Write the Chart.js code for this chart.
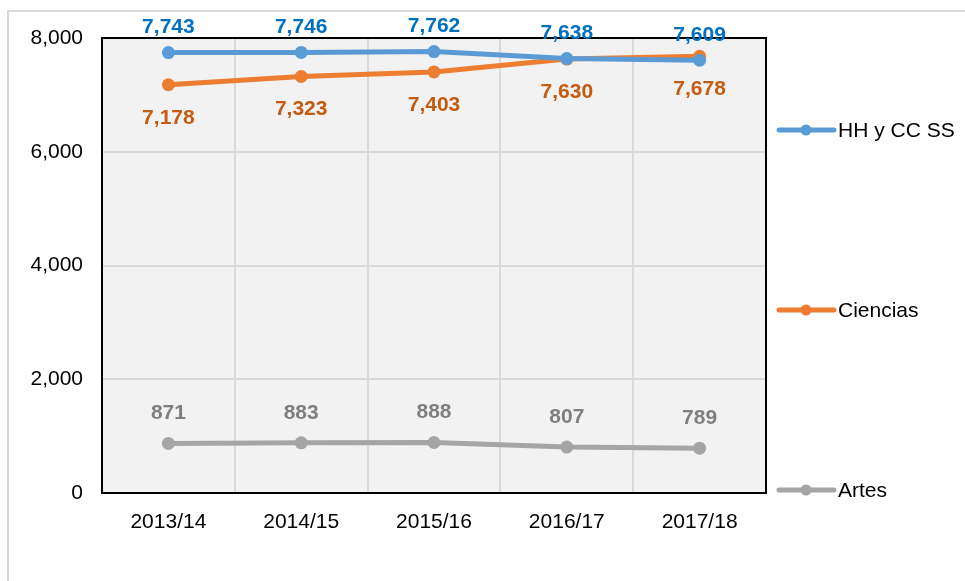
<!DOCTYPE html>
<html>
<head>
<meta charset="utf-8">
<script src="https://cdn.jsdelivr.net/npm/chart.js@4"></script>
<style>
  html, body { margin: 0; padding: 0; background: #fff; }
  #wrap { width: 965px; height: 581px; }
</style>
</head>
<body>
<div id="wrap"><canvas id="myChart" width="965" height="581"></canvas></div>
<script>
const years = ['2013/14', '2014/15', '2015/16', '2016/17', '2017/18'];
const hhValues = [7743, 7746, 7762, 7638, 7609];
const cienciasValues = [7178, 7323, 7403, 7630, 7678];
const artesValues = [871, 883, 888, 807, 789];
const yTicks = [0, 2000, 4000, 6000, 8000];

const FONT = 'Arial, "Liberation Sans", sans-serif';

// label offsets per series (above / below the point)
const labelSettings = [
  { color: '#0070c0', dy: -25 },
  { color: '#c55a11', dy: 33 },
  { color: '#7f7f7f', dy: -30 }
];

const frameAndArea = {
  id: 'frameAndArea',
  beforeDraw(chart) {
    const c = chart.ctx, a = chart.chartArea;
    c.save();
    c.strokeStyle = '#d9d9d9';
    c.lineWidth = 2;
    c.strokeRect(8, 11, 1200, 1200);
    c.fillStyle = '#f2f2f2';
    c.fillRect(a.left, a.top, a.right - a.left, a.bottom - a.top);
    c.restore();
  },
  afterDatasetsDraw(chart) {
    const c = chart.ctx, a = chart.chartArea;
    c.save();
    c.strokeStyle = '#000';
    c.lineWidth = 2;
    c.strokeRect(a.left, a.top, a.right - a.left, a.bottom - a.top);

    // data labels
    c.font = 'bold 21px ' + FONT;
    c.textAlign = 'center';
    c.textBaseline = 'middle';
    chart.data.datasets.forEach((ds, i) => {
      const meta = chart.getDatasetMeta(i);
      c.fillStyle = labelSettings[i].color;
      meta.data.forEach((pt, j) => {
        c.fillText(ds.data[j].toLocaleString('en-US'), pt.x, pt.y + labelSettings[i].dy);
      });
    });

    // legend spread down the right side
    const legendY = [130, 310, 490];
    const lx = a.right + 13;
    c.font = '21px ' + FONT;
    c.textAlign = 'left';
    chart.data.datasets.forEach((ds, i) => {
      const y = legendY[i];
      c.strokeStyle = ds.borderColor;
      c.lineWidth = 5;
      c.lineCap = 'round';
      c.beginPath();
      c.moveTo(lx, y);
      c.lineTo(lx + 55, y);
      c.stroke();
      c.fillStyle = ds.borderColor;
      c.beginPath();
      c.arc(lx + 27, y, 5.5, 0, Math.PI * 2);
      c.fill();
      c.fillStyle = '#000';
      c.fillText(ds.label, lx + 59, y + 1);
    });
    c.restore();
  }
};

const ctx = document.getElementById('myChart').getContext('2d');

new Chart(ctx, {
  type: 'line',
  data: {
    labels: years,
    datasets: [
      { label: 'HH y CC SS', data: hhValues, borderColor: '#5b9bd5', backgroundColor: '#5b9bd5' },
      { label: 'Ciencias', data: cienciasValues, borderColor: '#ed7d31', backgroundColor: '#ed7d31' },
      { label: 'Artes', data: artesValues, borderColor: '#a5a5a5', backgroundColor: '#a5a5a5' }
    ].map(d => Object.assign(d, {
      borderWidth: 5,
      pointRadius: 6.5,
      pointBorderWidth: 0,
      pointHoverRadius: 6.5,
      tension: 0,
      fill: false
    }))
  },
  options: {
    responsive: false,
    animation: false,
    layout: { padding: { left: 0, top: 38, right: 199, bottom: 0 } },
    plugins: {
      legend: { display: false },
      tooltip: { enabled: false }
    },
    scales: {
      x: {
        offset: true,
        grid: { offset: true, color: '#d9d9d9', lineWidth: 2, drawTicks: false },
        border: { display: false },
        ticks: { color: '#000', font: { family: FONT, size: 21 }, padding: 17 },
        afterFit(s) { s.height = 88; }
      },
      y: {
        min: 0,
        max: 8000,
        afterBuildTicks(s) { s.ticks = yTicks.map(v => ({ value: v })); },
        grid: { color: '#d9d9d9', lineWidth: 2, drawTicks: false },
        border: { display: false },
        ticks: {
          color: '#000',
          font: { family: FONT, size: 21 },
          padding: 19,
          callback: v => v.toLocaleString('en-US')
        },
        afterFit(s) { s.width = 102; }
      }
    }
  },
  plugins: [frameAndArea]
});
</script>
</body>
</html>
